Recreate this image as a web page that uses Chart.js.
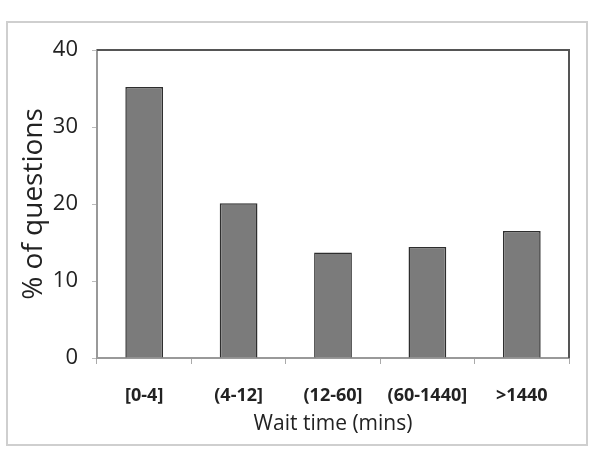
<!DOCTYPE html>
<html>
<head>
<meta charset="utf-8">
<script src="https://cdn.jsdelivr.net/npm/chart.js@4/dist/chart.umd.min.js"></script>
<style>
    html, body { margin: 0; padding: 0; background: #fff; }
    #wrap { position: relative; width: 595px; height: 452px; }
    #frame {
        position: absolute; left: 6px; top: 21px; width: 578px; height: 421px;
        border: 2px solid #cfcfcf; pointer-events: none;
    }
</style>
</head>
<body>
<div id="wrap">
    <canvas id="myChart" width="595" height="452"></canvas>
    <div id="frame"></div>
</div>
<script>
"use strict";

const categories = ['[0-4]', '(4-12]', '(12-60]', '(60-1440]', '>1440'];
const percentages = [35.2, 20.1, 13.7, 14.4, 16.5];
const yTicks = [0, 10, 20, 30, 40];

// top and right edges of the plot box
const boxLines = {
    id: 'boxLines',
    afterDraw(chart) {
        const a = chart.chartArea;
        const c = chart.ctx;
        c.save();
        c.strokeStyle = '#555';
        c.lineWidth = 2;
        c.beginPath();
        c.moveTo(a.left, a.top);
        c.lineTo(a.right, a.top);
        c.lineTo(a.right, a.bottom);
        c.stroke();
        c.restore();
    }
};

const ctx = document.getElementById('myChart');
const myChart = new Chart(ctx, {
    type: 'bar',
    data: {
        labels: categories,
        datasets: [{
            data: percentages,
            backgroundColor: '#7b7b7b',
            borderColor: '#2e2e2e',
            borderWidth: 1.5,
            categoryPercentage: 1,
            barPercentage: 0.4
        }]
    },
    options: {
        responsive: false,
        animation: false,
        layout: {
            padding: { left: 15, top: 50, right: 26, bottom: 8 }
        },
        plugins: {
            legend: { display: false },
            tooltip: { enabled: false }
        },
        scales: {
            x: {
                offset: true,
                grid: {
                    offset: true,
                    drawOnChartArea: false,
                    tickLength: 6,
                    color: '#aaa'
                },
                border: { color: '#999', width: 2 },
                ticks: {
                    color: '#222',
                    padding: 21,
                    font: { family: 'Open Sans', size: 18, weight: 'bold' }
                },
                title: {
                    display: true,
                    text: 'Wait time (mins)',
                    color: '#222',
                    padding: { top: 0, bottom: 7 },
                    font: { family: 'Open Sans', size: 21 }
                },
                afterFit: function (scale) { scale.height = 86; }
            },
            y: {
                min: 0,
                max: 40,
                afterBuildTicks: function (scale) {
                    scale.ticks = yTicks.map(v => ({ value: v }));
                },
                grid: {
                    drawOnChartArea: false,
                    tickLength: 5,
                    color: '#bbb'
                },
                border: { color: '#999', width: 2 },
                ticks: {
                    color: '#222',
                    padding: 14,
                    font: { family: 'Open Sans', size: 22 }
                },
                title: {
                    display: true,
                    text: '% of questions',
                    color: '#222',
                    padding: { top: 2, bottom: 0 },
                    font: { family: 'Open Sans', size: 28 }
                },
                afterFit: function (scale) { scale.width = 82; }
            }
        }
    },
    plugins: [boxLines]
});
</script>
</body>
</html>
